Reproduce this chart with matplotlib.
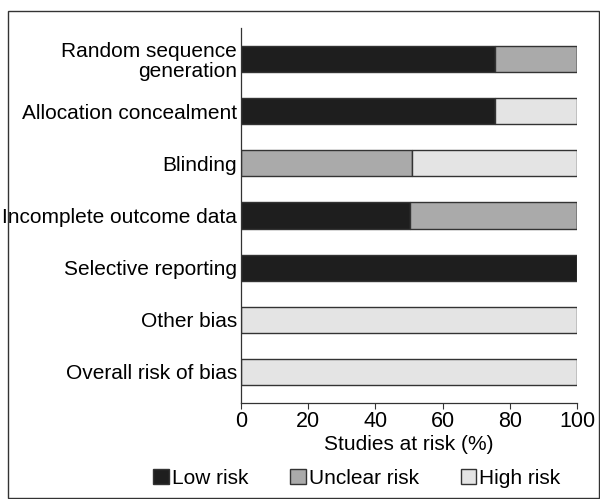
import matplotlib
matplotlib.use("Agg")
import matplotlib.pyplot as plt
from matplotlib.patches import Patch, Rectangle

plt.rcParams['font.family'] = ['Liberation Sans', 'DejaVu Sans']

categories = ["Random sequence\ngeneration", "Allocation concealment", "Blinding",
              "Incomplete outcome data", "Selective reporting", "Other bias",
              "Overall risk of bias"]
low = [75.5, 75.5, 0, 50.3, 100, 0, 0]
unclear = [24.5, 0, 51, 49.7, 0, 0, 0]
high = [0, 24.5, 49, 0, 0, 100, 100]
series_names = ["Low risk", "Unclear risk", "High risk"]
colors = ["#1e1e1e", "#aaaaaa", "#e4e4e4"]
xticks = [0, 20, 40, 60, 80, 100]

fig = plt.figure(figsize=(6.0, 4.99), dpi=100)
ax = fig.add_axes([241/600, 1-403/499, (577-241)/600, (403-28)/499])

y = list(range(len(categories)))
left = [0]*len(categories)
for vals, c in zip([low, unclear, high], colors):
    ax.barh(y, vals, left=left, height=0.5, color=c, edgecolor="#333333", linewidth=1.0)
    left = [a+b for a, b in zip(left, vals)]

ax.set_ylim(6.6, -0.6)
ax.set_xlim(0, 100)
ax.set_yticks(y)
ax.set_yticklabels(categories, fontsize=15, ha='right', multialignment='right', linespacing=1.05)
ax.tick_params(axis='y', length=0, pad=3)
ax.set_xticks(xticks)
ax.set_xticklabels([str(t) for t in xticks], fontsize=15.5)
ax.tick_params(axis='x', length=4, width=0.8, color="#333333", pad=2)
ax.set_xlabel("Studies at risk (%)", fontsize=15, labelpad=2)
for s in ["top", "right"]:
    ax.spines[s].set_visible(False)
for s in ["left", "bottom"]:
    ax.spines[s].set_color("#333333")
    ax.spines[s].set_linewidth(0.9)

handles = [Patch(facecolor=c, edgecolor="#333333", label=n) for c, n in zip(colors, series_names)]
fig.legend(handles=handles, loc="center", bbox_to_anchor=(0.595, 1-478/499), ncol=3,
           frameon=False, fontsize=15, handlelength=0.75, handleheight=0.75,
           handletextpad=0.15, columnspacing=2.0)

fig.patches.append(Rectangle((8/600, 0.002), 591/600, (499-11)/499 - 0.002, transform=fig.transFigure,
                             fill=False, edgecolor="#333333", linewidth=1.0))

fig.savefig("out.png", dpi=100)
